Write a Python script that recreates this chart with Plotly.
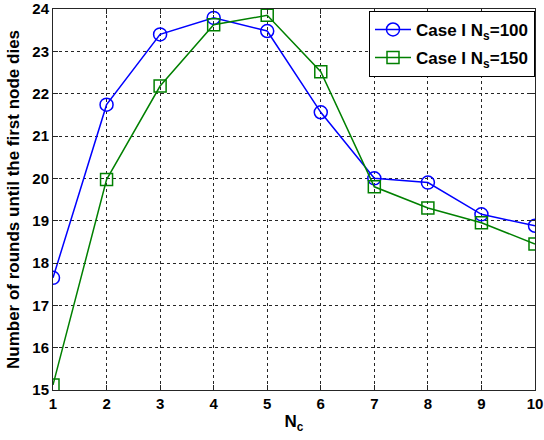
import plotly.graph_objects as go

nc = [1, 2, 3, 4, 5, 6, 7, 8, 9, 10]
case_ns100 = [17.65, 21.74, 23.40, 23.79, 23.48, 21.56, 20.00, 19.90, 19.15, 18.88]
case_ns150 = [15.12, 19.97, 22.18, 23.63, 23.85, 22.52, 19.80, 19.30, 18.95, 18.45]
y_ticks = [15, 16, 17, 18, 19, 20, 21, 22, 23, 24]

font_family = "Liberation Sans, Arial, sans-serif"

fig = go.Figure()
fig.add_trace(go.Scatter(
    x=nc, y=case_ns100, mode="lines+markers",
    name="<b>Case I N<sub>s</sub>=100</b>", legendgroup="a",
    line=dict(color="#0000FF", width=1.5),
    marker=dict(symbol="circle-open", size=13, color="#0000FF", line=dict(width=1.5)),
))
fig.add_trace(go.Scatter(
    x=nc, y=case_ns150, mode="lines+markers",
    name="<b>Case I N<sub>s</sub>=150</b>", legendgroup="b",
    line=dict(color="#008000", width=1.5),
    marker=dict(symbol="square-open", size=12, color="#008000", line=dict(width=1.5)),
))

axis_common = dict(
    showline=True, linecolor="#262626", linewidth=1, mirror="ticks",
    ticks="inside", ticklen=5, tickcolor="#262626",
    showgrid=True, gridcolor="#262626", griddash="dot", gridwidth=1,
    zeroline=False, automargin=False,
    tickfont=dict(family=font_family, size=15, color="black"),
)

fig.update_xaxes(
    range=[1, 10], tickvals=nc, ticktext=[f"<b>{v}</b>" for v in nc],
    title=dict(text="<b>N<sub>c</sub></b>", font=dict(family=font_family, size=17, color="black"), standoff=4),
    **axis_common,
)
fig.update_yaxes(
    range=[15, 24], tickvals=y_ticks, ticktext=[f"<b>{v}</b>" for v in y_ticks],
    title=dict(text="<b>Number of rounds until the first node dies</b>", font=dict(family=font_family, size=17, color="black"), standoff=8),
    **axis_common,
)

fig.update_layout(
    width=544, height=440,
    margin=dict(l=53, r=9, t=9, b=50, autoexpand=False),
    paper_bgcolor="white", plot_bgcolor="white",
    showlegend=True,
    legend=dict(
        x=1, y=0.995, xanchor="right", yanchor="top",
        bgcolor="white", bordercolor="black", borderwidth=1,
        font=dict(family=font_family, size=17, color="black"),
        itemwidth=36, tracegroupgap=3,
    ),
)

fig.write_html("out.html", config={"displayModeBar": False},
               post_script="document.body.style.margin='0';")
